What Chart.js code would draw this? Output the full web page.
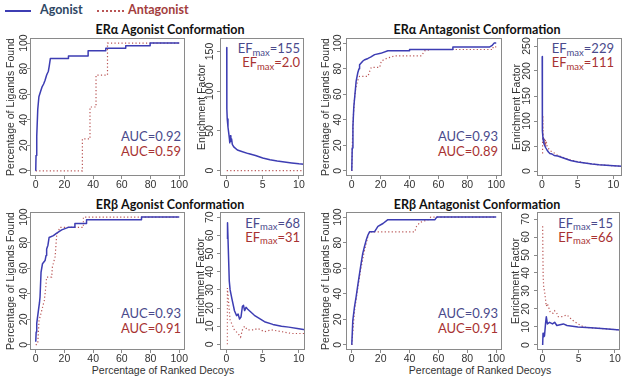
<!DOCTYPE html>
<html>
<head>
<meta charset="utf-8">
<script src="https://cdn.jsdelivr.net/npm/chart.js@4.4.0/dist/chart.umd.min.js"></script>
<style>
  html, body { margin: 0; padding: 0; background: #fff; }
  body { width: 624px; height: 380px; position: relative; overflow: hidden; font-family: Lato, "Open Sans", sans-serif; }
  canvas { position: absolute; }
  .title { position: absolute; font-weight: bold; font-size: 12.5px; color: #111; transform: translate(-50%, -50%); white-space: nowrap; }
  .leg { position: absolute; font-weight: bold; font-size: 12.5px; line-height: 16px; white-space: nowrap; }
  .legline { position: absolute; height: 0; }
  .note { position: absolute; font-size: 13px; line-height: 14.5px; text-align: right; white-space: nowrap; }
  .ef { line-height: 13px; }
  .sub { font-size: 9.5px; position: relative; top: 2.5px; }
  .blue { color: #4a4a8c; }
  .red { color: #a83232; }
  .xtitle { position: absolute; font-family: "Liberation Sans", Arial, sans-serif; font-size: 10.5px; color: #333; transform: translate(-50%, -50%); white-space: nowrap; }
</style>
</head>
<body>

<div class="legline" style="left:5px;top:10px;width:26px;border-top:2px solid #3d3db3"></div>
<div class="leg" style="left:40px;top:2px;color:#2e4764">Agonist</div>
<div class="legline" style="left:97px;top:10px;width:27px;border-top:2px dotted #b95555"></div>
<div class="leg" style="left:128px;top:2px;color:#a33d3d">Antagonist</div>

<div class="title" style="left:170px;top:29px">ERα Agonist Conformation</div>
<div class="title" style="left:477px;top:29px">ERα Antagonist Conformation</div>
<div class="title" style="left:170px;top:204px">ERβ Agonist Conformation</div>
<div class="title" style="left:477px;top:204px">ERβ Antagonist Conformation</div>

<div class="note" style="right:443px;top:129px"><span class="blue">AUC=0.92</span><br><span class="red">AUC=0.59</span></div>
<div class="note" style="right:126px;top:129px"><span class="blue">AUC=0.93</span><br><span class="red">AUC=0.89</span></div>
<div class="note" style="right:443px;top:306px"><span class="blue">AUC=0.93</span><br><span class="red">AUC=0.91</span></div>
<div class="note" style="right:126px;top:306px"><span class="blue">AUC=0.93</span><br><span class="red">AUC=0.91</span></div>

<div class="note ef" style="right:324px;top:42px"><span class="blue">EF<span class="sub">max</span>=155</span><br><span class="red">EF<span class="sub">max</span>=2.0</span></div>
<div class="note ef" style="right:10px;top:42px"><span class="blue">EF<span class="sub">max</span>=229</span><br><span class="red">EF<span class="sub">max</span>=111</span></div>
<div class="note ef" style="right:324px;top:216.5px"><span class="blue">EF<span class="sub">max</span>=68</span><br><span class="red">EF<span class="sub">max</span>=31</span></div>
<div class="note ef" style="right:11px;top:216.5px"><span class="blue">EF<span class="sub">max</span>=15</span><br><span class="red">EF<span class="sub">max</span>=66</span></div>

<div class="xtitle" style="left:163px;top:370px">Percentage of Ranked Decoys</div>
<div class="xtitle" style="left:480px;top:370px">Percentage of Ranked Decoys</div>

<script>
// Tick labels
const rocTicks = [0, 20, 40, 60, 80, 100];
const efXTicks = [0, 5, 10];
const efYTicksAlphaAgo = [0, 50, 100, 150];
const efYTicksAlphaAnt = [0, 50, 100, 150, 200, 250];
const efYTicksBeta = [0, 10, 20, 30, 40, 50, 60, 70];

// ROC curves (x = % ranked decoys, y = % ligands found)
// ERα agonist conformation
const rocAAgo_agoX = [0, 0.2, 0.7, 1.4, 2.2, 3.3, 4.5, 5.5, 6.5, 7.6, 8.8, 9.4, 10.2, 22.8, 22.8, 36.5, 36.5, 48.8, 48.8, 62.7, 62.7, 79.7, 79.7, 100];
const rocAAgo_agoY = [0, 12, 27, 48, 58, 62, 66, 68, 71, 75, 78, 82, 88, 88, 90, 90, 94, 94, 96, 96, 98, 98, 100, 100];
const rocAAgo_antX = [0, 32.5, 32.5, 37.8, 37.8, 42, 42, 50, 50, 100];
const rocAAgo_antY = [0, 0, 25, 25, 50, 50, 75, 75, 100, 100];
// ERα antagonist conformation
const rocAAnt_agoX = [0, 0.3, 0.8, 1.4, 2.2, 3.0, 4.2, 5.0, 5.4, 7.7, 9, 11.2, 13, 15.8, 20, 25, 40, 40, 70, 70, 95.5, 97, 98.5, 100];
const rocAAnt_agoY = [0, 18, 35, 50, 60, 70, 77, 80, 83, 86, 87, 88, 89, 91, 92, 94, 94, 95, 95, 97, 97, 98, 100, 100];
const rocAAnt_antX = [0, 0.5, 1.2, 2, 3, 4.2, 5.4, 11.2, 12.4, 13.5, 19.3, 20.5, 24, 29.6, 48.2, 50.5, 55, 97.8, 97.8, 100];
const rocAAnt_antY = [0, 25, 45, 58, 66, 71, 74, 74, 78, 81, 81, 86, 88, 90, 90, 94, 95, 95, 97, 97];
// ERβ agonist conformation
const rocBAgo_agoX = [0, 0.3, 0.7, 1.9, 2.6, 3.0, 3.7, 4.7, 6.5, 7.2, 7.6, 8.5, 9.3, 12.3, 14.6, 18.1, 22.7, 27.3, 27.3, 35.4, 35.4, 73.7, 73.7, 100];
const rocBAgo_agoY = [2.4, 10, 16.8, 27.2, 33, 37.6, 57, 63.5, 66, 70, 75, 78, 84, 85.5, 87.5, 90, 92, 92, 95, 95, 98, 98, 100, 100];
const rocBAgo_antX = [0, 1.4, 2.3, 4.2, 6.0, 7.0, 7.6, 11.1, 11.6, 13.5, 14.6, 16.9, 33.2, 33.2, 100];
const rocBAgo_antY = [0, 1, 19, 27, 35, 45, 53, 53, 61, 69, 86, 92, 92, 100, 100];
// ERβ antagonist conformation
const rocBAnt_agoX = [0, 0.7, 1.9, 3.0, 4.2, 5.4, 6.5, 7.6, 8.8, 10.0, 11.2, 12.4, 15.8, 18.1, 21.6, 25, 57.6, 58.8, 100];
const rocBAnt_agoY = [0, 19, 30, 37.6, 47, 56, 64, 71.6, 77, 82, 86, 88.6, 88.6, 92.7, 95, 98, 98, 100, 100];
const rocBAnt_antX = [0, 1.9, 4.2, 6.5, 8.8, 11.6, 13, 43.6, 44.8, 47.1, 52.9, 54.7, 100];
const rocBAnt_antY = [0, 27, 45, 61, 74, 87, 88.5, 88.5, 92.7, 95.8, 98, 100, 100];

// Enrichment factor curves (x = % ranked decoys)
const efAAgo_agoX = [0.03, 0.03, 0.06, 0.1, 0.2, 0.3, 0.4, 0.45, 0.55, 0.6, 0.7, 0.8, 1.0, 1.5, 2.0, 3.0, 4.0, 5.0, 6.0, 7.0, 8.0, 9.0, 10.0, 10.8];
const efAAgo_agoY = [155, 115, 78, 65, 55, 48, 40, 35, 44, 37, 40, 33, 30, 26, 24.5, 21.5, 19, 16, 13.8, 12.2, 11, 9.8, 8.6, 8];
const efAAgo_antX = [0.03, 10.8];
const efAAgo_antY = [0, 0];

const efAAnt_agoX = [0.03, 0.03, 0.05, 0.08, 0.15, 0.25, 0.35, 0.5, 0.7, 0.9, 1.1, 1.4, 1.7, 2.2, 3, 4, 5, 6, 7, 8, 9, 10, 11.3];
const efAAnt_agoY = [229, 150, 112, 80, 64, 56, 52, 47, 42, 38, 35, 34, 31, 30, 26, 21, 18, 16, 14, 12.5, 11.5, 10.5, 9.5];
const efAAnt_antX = [0.08, 0.1, 0.13, 0.17, 0.22, 0.3, 0.38, 0.45, 0.52, 0.6, 0.7, 0.9, 1.2, 1.5, 1.8, 2.2, 3, 4, 5, 6, 7, 8, 9, 10, 11.3];
const efAAnt_antY = [35, 111, 85, 68, 60, 65, 57, 63, 55, 60, 50, 45, 40, 38, 35, 31, 27, 22, 19, 16, 14, 12.5, 11.5, 10.5, 9.5];

const efBAgo_agoX = [0.14, 0.14, 0.38, 0.5, 0.75, 1.1, 1.4, 1.6, 1.8, 2.0, 2.2, 2.35, 2.5, 2.7, 2.9, 3.85, 5.25, 6.4, 7.6, 8.6, 10, 10.9];
const efBAgo_agoY = [58, 67, 35, 30, 25, 18.5, 15.8, 16.7, 14, 15, 21, 21.5, 18.6, 20.4, 19.5, 16, 12.5, 11, 10, 9.5, 8.6, 8];
const efBAgo_antX = [0.12, 0.12, 0.38, 0.5, 1.1, 1.6, 1.95, 2.2, 2.5, 2.9, 3.85, 4.3, 5.25, 6.2, 7.6, 9, 10.9];
const efBAgo_antY = [0, 31, 19, 13.4, 7.9, 6, 4, 8, 10, 8, 8, 8.8, 7, 8, 7, 6, 6];

const efBAnt_agoX = [0.05, 0.1, 0.2, 0.3, 0.45, 0.55, 0.7, 1.0, 1.4, 1.7, 2.0, 2.9, 3.4, 4.9, 6.7, 8.6, 10.8];
const efBAnt_agoY = [0, 6.5, 4.6, 5, 12, 15.7, 11.7, 12.6, 11.7, 12.6, 10.8, 11.7, 10.8, 10, 9.5, 9, 8.3];
const efBAnt_antX = [0.05, 0.08, 0.12, 0.2, 0.3, 0.45, 0.55, 0.7, 1.0, 1.1, 1.5, 1.7, 2.0, 2.2, 2.7, 3.4, 4.1, 4.8, 5.7, 6.7, 8.6, 10.8];
const efBAnt_antY = [66, 51, 38, 32, 30, 25, 21.5, 23, 19.4, 18, 17.6, 19, 17.6, 15.7, 15.7, 16.7, 13.9, 12, 10, 9.5, 9, 8.3];

// Styling
const BLUE = '#3d3db3';
const RED = '#b95555';
const BOX = '#8a8a8a';
const TXT = '#333';
const FONT = '"Liberation Sans", Arial, sans-serif';
const FSIZE = 10.5;

Chart.defaults.font.family = FONT;
Chart.defaults.font.size = FSIZE;
Chart.defaults.color = TXT;

const measureCtx = document.createElement('canvas').getContext('2d');
function widest(labels) {
    measureCtx.font = FSIZE + 'px ' + FONT;
    return Math.max(...labels.map(l => measureCtx.measureText(String(l)).width));
}

function toPoints(xs, ys) {
    return xs.map((x, i) => ({ x: x, y: ys[i] }));
}

// R style box round the plot region
const boxPlugin = {
    id: 'plotBox',
    afterDatasetsDraw(chart) {
        const a = chart.chartArea;
        const ctx = chart.ctx;
        ctx.save();
        ctx.strokeStyle = BOX;
        ctx.lineWidth = 1;
        ctx.strokeRect(Math.round(a.left) + 0.5, Math.round(a.top) + 0.5,
            Math.round(a.right - a.left) - 1, Math.round(a.bottom - a.top) - 1);
        ctx.restore();
    }
};

const Y_W = 28, X_H = 20, PAD_T = 4, PAD_R = 4, TICK = 3;

function drawPanel(p) {
    const [bl, bt, br, bb] = p.box;
    const left = bl - Y_W, top = bt - PAD_T;
    const canvas = document.createElement('canvas');
    canvas.width = br + PAD_R - left;
    canvas.height = bb + X_H - top;
    canvas.style.left = left + 'px';
    canvas.style.top = top + 'px';
    document.body.appendChild(canvas);

    const yLabelPad = p.yLabelGap - TICK - widest(p.yTicks) / 2;

    new Chart(canvas, {
        type: 'line',
        data: {
            datasets: [
                {
                    data: toPoints(p.agoX, p.agoY),
                    borderColor: BLUE, borderWidth: 1.5,
                    pointRadius: 0, tension: 0, fill: false,
                    borderJoinStyle: 'round'
                },
                {
                    data: toPoints(p.antX, p.antY),
                    borderColor: RED, borderWidth: 1.2, borderDash: [1.2, 2.3],
                    pointRadius: 0, tension: 0, fill: false
                }
            ]
        },
        options: {
            responsive: false,
            animation: false,
            events: [],
            layout: { padding: { left: 0, top: PAD_T, right: PAD_R, bottom: 0 }, autoPadding: false },
            plugins: { legend: { display: false }, tooltip: { enabled: false } },
            scales: {
                x: {
                    type: 'linear',
                    min: p.xRange[0], max: p.xRange[1],
                    afterBuildTicks: s => { s.ticks = p.xTicks.map(v => ({ value: v })); },
                    afterFit: s => { s.height = X_H; s.paddingLeft = 0; s.paddingRight = 0; },
                    grid: { drawOnChartArea: false, drawTicks: true, tickLength: TICK, color: BOX },
                    border: { display: false },
                    ticks: { padding: -0.3, maxRotation: 0, autoSkip: false, callback: v => String(v) }
                },
                y: {
                    type: 'linear',
                    min: p.yRange[0], max: p.yRange[1],
                    afterBuildTicks: s => { s.ticks = p.yTicks.map(v => ({ value: v })); },
                    afterFit: s => { s.width = Y_W; s.paddingTop = 0; s.paddingBottom = 0; },
                    grid: { drawOnChartArea: false, drawTicks: true, tickLength: TICK, color: BOX },
                    border: { display: false },
                    ticks: {
                        padding: yLabelPad, minRotation: 90, maxRotation: 90,
                        crossAlign: 'center', autoSkip: false, callback: v => String(v)
                    },
                    title: {
                        display: true, text: p.yTitle, color: TXT,
                        padding: { top: Y_W - p.yTitleGap - FSIZE * 0.6, bottom: 0 }
                    }
                }
            }
        },
        plugins: [boxPlugin]
    });
}

const ROC_TITLE = 'Percentage of Ligands Found';
const EF_TITLE = 'Enrichment Factor';

const panels = [
    { box: [30, 38, 185, 176], xRange: [-4, 104], yRange: [-4, 104], xTicks: rocTicks, yTicks: rocTicks,
      yTitle: ROC_TITLE, yTitleGap: 19, yLabelGap: 6,
      agoX: rocAAgo_agoX, agoY: rocAAgo_agoY, antX: rocAAgo_antX, antY: rocAAgo_antY },
    { box: [220, 38, 304, 176], xRange: [-0.9, 10.7], yRange: [-6.7, 167], xTicks: efXTicks, yTicks: efYTicksAlphaAgo,
      yTitle: EF_TITLE, yTitleGap: 17.5, yLabelGap: 9.5,
      agoX: efAAgo_agoX, agoY: efAAgo_agoY, antX: efAAgo_antX, antY: efAAgo_antY },
    { box: [346, 38, 502, 176], xRange: [-4, 104], yRange: [-4, 104], xTicks: rocTicks, yTicks: rocTicks,
      yTitle: ROC_TITLE, yTitleGap: 20, yLabelGap: 7.5,
      agoX: rocAAnt_agoX, agoY: rocAAnt_agoY, antX: rocAAnt_antX, antY: rocAAnt_antY },
    { box: [537, 38, 622, 176], xRange: [-0.7, 11.2], yRange: [-10, 266], xTicks: efXTicks, yTicks: efYTicksAlphaAnt,
      yTitle: EF_TITLE, yTitleGap: 20, yLabelGap: 10,
      agoX: efAAnt_agoX, agoY: efAAnt_agoY, antX: efAAnt_antX, antY: efAAnt_antY },
    { box: [30, 212, 185, 350], xRange: [-4, 104], yRange: [-4, 104], xTicks: rocTicks, yTicks: rocTicks,
      yTitle: ROC_TITLE, yTitleGap: 19, yLabelGap: 6,
      agoX: rocBAgo_agoX, agoY: rocBAgo_agoY, antX: rocBAgo_antX, antY: rocBAgo_antY },
    { box: [220, 212, 305, 350], xRange: [-0.9, 10.85], yRange: [-3.1, 72.9], xTicks: efXTicks, yTicks: efYTicksBeta,
      yTitle: EF_TITLE, yTitleGap: 18.5, yLabelGap: 9.5,
      agoX: efBAgo_agoX, agoY: efBAgo_agoY, antX: efBAgo_antX, antY: efBAgo_antY },
    { box: [346, 212, 502, 350], xRange: [-4, 104], yRange: [-4, 104], xTicks: rocTicks, yTicks: rocTicks,
      yTitle: ROC_TITLE, yTitleGap: 20, yLabelGap: 7.5,
      agoX: rocBAnt_agoX, agoY: rocBAnt_agoY, antX: rocBAnt_antX, antY: rocBAnt_antY },
    { box: [537, 212, 620, 350], xRange: [-0.73, 10.7], yRange: [-2.8, 73.9], xTicks: efXTicks, yTicks: efYTicksBeta,
      yTitle: EF_TITLE, yTitleGap: 20.5, yLabelGap: 10.5,
      agoX: efBAnt_agoX, agoY: efBAnt_agoY, antX: efBAnt_antX, antY: efBAnt_antY }
];

panels.forEach(drawPanel);
</script>
</body>
</html>
